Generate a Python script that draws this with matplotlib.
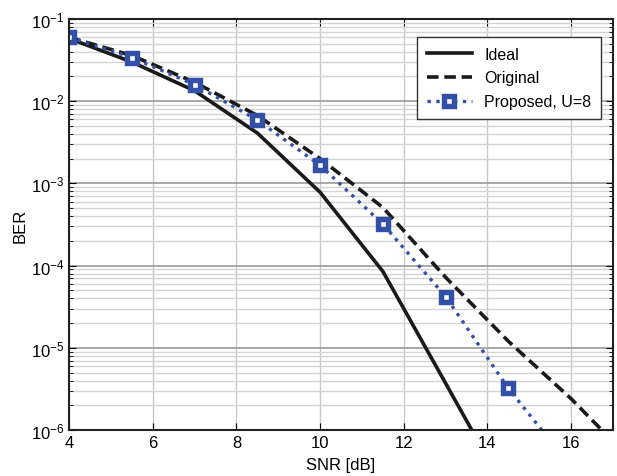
import matplotlib
matplotlib.use('Agg')
import matplotlib.pyplot as plt
from matplotlib.ticker import LogLocator, NullFormatter

plt.rcParams['font.family'] = ['Liberation Sans', 'DejaVu Sans']
plt.rcParams['mathtext.fontset'] = 'custom'
plt.rcParams['mathtext.rm'] = 'Liberation Sans'

# BER curves vs SNR
snr = [4, 5.5, 7, 8.5, 10, 11.5, 13, 14.5, 16, 17.5]
ber_ideal = [0.058, 0.030, 0.0134, 0.0041, 7.8e-4, 8.5e-5, 3.7e-6, 1.6e-7, 1e-8, 1e-9]
ber_original = [0.060, 0.036, 0.017, 0.0067, 0.0020, 5.1e-4, 7.2e-5, 1.2e-5, 2.4e-6, 4e-7]
ber_proposed = [0.060, 0.034, 0.0159, 0.0059, 0.00166, 3.2e-4, 4.2e-5, 3.2e-6, 3.6e-7, 4e-8]

blue = '#3350A8'

fig = plt.figure(figsize=(6.17, 4.77), dpi=100)
ax = fig.add_axes([0.112, 0.0964, 0.8815, 0.8616])

ax.semilogy(snr, ber_ideal, '-', color='#1a1a1a', lw=2.6, label='Ideal')
ax.semilogy(snr, ber_original, '--', color='#1a1a1a', lw=2.6, dashes=(3.2, 1.6), label='Original')
ax.semilogy(snr, ber_proposed, ':', color=blue, lw=2.4, marker='s', ms=7,
            mfc='white', mec=blue, mew=3.9, label='Proposed, U=8')

ax.set_xlim(4, 17)
ax.set_ylim(1e-6, 1e-1)
ax.set_xticks([4, 6, 8, 10, 12, 14, 16])
ax.yaxis.set_major_locator(LogLocator(base=10, numticks=10))
ax.yaxis.set_minor_locator(LogLocator(base=10, subs=range(2, 10), numticks=20))
ax.yaxis.set_minor_formatter(NullFormatter())

ax.grid(True, which='major', axis='x', color='#c8c8c8', lw=1)
ax.grid(True, which='major', axis='y', color='#9a9a9a', lw=1.2)
ax.grid(True, which='minor', axis='y', color='#d4d4d4', lw=1)
ax.set_axisbelow(True)

ax.tick_params(which='both', direction='in', top=True, right=True, labelsize=12)
ax.tick_params(which='major', length=5)
ax.tick_params(which='minor', length=3)
for s in ax.spines.values():
    s.set_linewidth(1.5)
    s.set_color('#222222')

ax.set_xlabel('SNR [dB]', fontsize=12, labelpad=5)
ax.set_ylabel('BER', fontsize=12, labelpad=2)

leg = ax.legend(loc='upper right', bbox_to_anchor=(0.978, 0.956), borderaxespad=0,
                fontsize=11.5, fancybox=False, edgecolor='#333333', framealpha=1,
                handlelength=2.8, borderpad=0.6, labelspacing=0.55)
leg.get_frame().set_linewidth(1)

fig.savefig('out.png', dpi=100)
